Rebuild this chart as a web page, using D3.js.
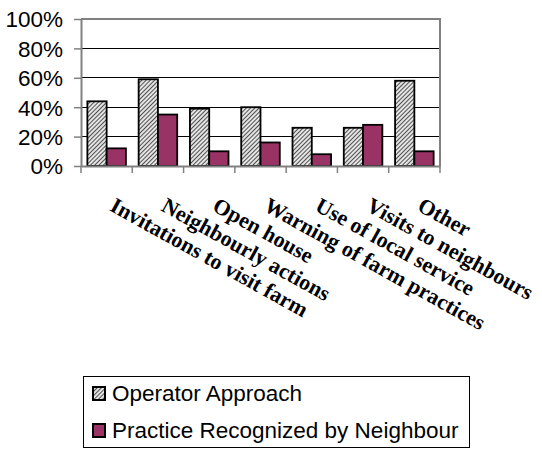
<!DOCTYPE html>
<html>
<head>
<meta charset="utf-8">
<script src="https://cdn.jsdelivr.net/npm/d3@7"></script>
<style>
  body { margin: 0; background: #fff; }
</style>
</head>
<body>
<div id="chart"></div>
<script>
const categories = [
  "Invitations to visit farm",
  "Neighbourly actions",
  "Open house",
  "Warning of farm practices",
  "Use of local service",
  "Visits to neighbours",
  "Other"
];
const operatorApproach = [44, 59, 39, 40, 26, 26, 58];
const practiceRecognized = [12, 35, 10, 16, 8, 28, 10];
const yTicks = [0, 20, 40, 60, 80, 100];
const seriesNames = ["Operator Approach", "Practice Recognized by Neighbour"];

const width = 542, height = 449;
const plot = { left: 81, right: 440, top: 19, bottom: 166 };
const sans = "Liberation Sans, Arial, sans-serif";

const svg = d3.select("#chart").append("svg")
    .attr("width", width)
    .attr("height", height);

// hatch pattern for the first series
const defs = svg.append("defs");
const pat = defs.append("pattern")
    .attr("id", "hatch")
    .attr("patternUnits", "userSpaceOnUse")
    .attr("width", 3)
    .attr("height", 3)
    .attr("patternTransform", "rotate(45)");
pat.append("rect").attr("width", 3).attr("height", 3).attr("fill", "#e4e4e4");
pat.append("line")
    .attr("x1", 0).attr("y1", 0).attr("x2", 0).attr("y2", 3)
    .attr("stroke", "#111").attr("stroke-width", 1.4);

const fills = ["url(#hatch)", "#993366"];

const x = d3.scaleBand()
    .domain(categories)
    .range([plot.left, plot.right]);

const xInner = d3.scaleBand()
    .domain([0, 1])
    .range([0, x.bandwidth()])
    .paddingOuter(0.33)
    .paddingInner(0);

const y = d3.scaleLinear()
    .domain([0, 100])
    .range([plot.bottom, plot.top]);

// gridlines
svg.append("g")
    .selectAll("line")
    .data(yTicks.filter(t => t > 0 && t < 100))
    .join("line")
    .attr("x1", plot.left).attr("x2", plot.right)
    .attr("y1", d => y(d)).attr("y2", d => y(d))
    .attr("stroke", "#000")
    .attr("stroke-width", 1)
    .attr("shape-rendering", "crispEdges");

// plot frame (top and right, grey)
svg.append("path")
    .attr("d", `M${plot.left},${y(100)}H${plot.right}V${plot.bottom}`)
    .attr("fill", "none")
    .attr("stroke", "#808080")
    .attr("stroke-width", 2);

// bars
const rows = categories.map((c, i) => ({ c, vals: [operatorApproach[i], practiceRecognized[i]] }));
svg.append("g")
    .selectAll("g")
    .data(rows)
    .join("g")
    .attr("transform", d => `translate(${x(d.c)},0)`)
    .selectAll("rect")
    .data(d => d.vals.map((v, k) => ({ v, k })))
    .join("rect")
    .attr("x", d => xInner(d.k))
    .attr("width", xInner.bandwidth())
    .attr("y", d => y(d.v))
    .attr("height", d => y(0) - y(d.v))
    .attr("fill", d => fills[d.k])
    .attr("stroke", "#000")
    .attr("stroke-width", 1.8);

// y axis
const yAxis = svg.append("g")
    .attr("transform", `translate(${plot.left},0)`)
    .call(d3.axisLeft(y).tickValues(yTicks).tickFormat(d => d + "%").tickSize(7).tickSizeOuter(0));
yAxis.select(".domain").attr("stroke", "#808080").attr("stroke-width", 2);
yAxis.selectAll(".tick line").attr("stroke", "#808080").attr("stroke-width", 1.5);
yAxis.selectAll("text")
    .attr("font-family", sans)
    .attr("font-size", 22.5)
    .attr("fill", "#000")
    .attr("x", -18)
    .attr("dy", "0.35em");

// x axis
const xAxis = svg.append("g")
    .attr("transform", `translate(0,${plot.bottom})`)
    .call(d3.axisBottom(x).tickSize(0).tickFormat(""));
xAxis.select(".domain").attr("stroke", "#808080").attr("stroke-width", 2);
xAxis.selectAll(".tick").remove();

const bounds = categories.map(c => x(c)).concat([plot.right]);
svg.append("g")
    .selectAll("line")
    .data(bounds)
    .join("line")
    .attr("x1", d => d).attr("x2", d => d)
    .attr("y1", plot.bottom).attr("y2", plot.bottom + 7)
    .attr("stroke", "#808080")
    .attr("stroke-width", 1.5);

// rotated category labels
svg.append("g")
    .selectAll("text")
    .data(categories)
    .join("text")
    .attr("transform", d => `translate(${x(d) + x.bandwidth() / 2 + 2},${plot.bottom + 44}) rotate(29)`)
    .attr("font-family", "Liberation Serif, Times New Roman, serif")
    .attr("font-weight", "bold")
    .attr("font-size", 22)
    .attr("fill", "#000")
    .text(d => d);

// legend
const legend = svg.append("g");
legend.append("rect")
    .attr("x", 83.5).attr("y", 376.5)
    .attr("width", 386).attr("height", 71)
    .attr("fill", "#fff")
    .attr("stroke", "#000")
    .attr("stroke-width", 1);

const items = legend.selectAll("g")
    .data(seriesNames)
    .join("g")
    .attr("transform", (d, i) => `translate(93,${387 + i * 37})`);
items.append("rect")
    .attr("width", 12).attr("height", 13)
    .attr("fill", (d, i) => fills[i])
    .attr("stroke", "#000")
    .attr("stroke-width", 2);
items.append("text")
    .attr("x", 19)
    .attr("y", 14)
    .attr("font-family", sans)
    .attr("font-size", 22.5)
    .attr("fill", "#000")
    .text(d => d);
</script>
</body>
</html>
